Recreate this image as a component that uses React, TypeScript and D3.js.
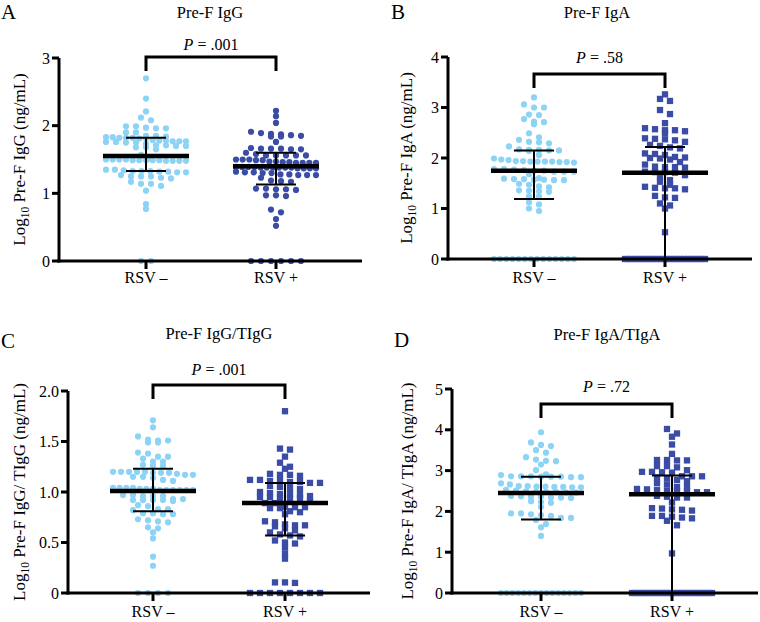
import React from "react";
import * as d3 from "d3";

// ---------- DATA ----------
const categories = ["RSV –", "RSV +"];
const panelLetters = ["A", "B", "C", "D"];
const panelTitles = ["Pre-F IgG", "Pre-F IgA", "Pre-F IgG/TIgG", "Pre-F IgA/TIgA"];
const yLabelRest = [" Pre-F IgG (ng/mL)", " Pre-F IgA (ng/mL)", " Pre-F IgG/ TIgG (ng/mL)", " Pre-F IgA/ TIgA (ng/mL)"];
const pValues = [".001", ".58", ".001", ".72"];
const yMaxes = [3, 4, 2, 5];
const tickValues = [[0, 1, 2, 3], [0, 1, 2, 3, 4], [0, 0.5, 1, 1.5, 2], [0, 1, 2, 3, 4, 5]];
const tickLabels = [["0", "1", "2", "3"], ["0", "1", "2", "3", "4"], ["0", "0.5", "1.0", "1.5", "2.0"], ["0", "1", "2", "3", "4", "5"]];

const aNeg = [2.70, 2.40, 2.21, 2.12, 2.08, 1.99, 1.96, 1.96, 1.97, 1.99, 1.90, 1.90, 1.85, 1.84, 1.83, 1.82, 1.81, 1.81, 1.82, 1.82, 1.83, 1.85,
  1.78, 1.77, 1.76, 1.75, 1.78, 1.76, 1.75, 1.77, 1.77, 1.79, 1.70, 1.68, 1.70, 1.71, 1.71, 1.73, 1.65, 1.68, 1.57,
  1.51, 1.50, 1.49, 1.49, 1.48, 1.50, 1.49, 1.48, 1.48, 1.49, 1.50, 1.49, 1.48, 1.50,
  1.33, 1.32, 1.35, 1.34, 1.33, 1.33, 1.35, 1.31, 1.31, 1.32, 1.27, 1.25, 1.23, 1.22, 1.25, 1.25,
  1.17, 1.14, 1.11, 1.14, 1.04, 0.84, 0.77, 0, 0];
const aPos = [2.22, 2.14, 2.04, 1.91, 1.89, 1.88, 1.87, 1.86, 1.85, 1.84, 1.84, 1.76, 1.66, 1.65, 1.65, 1.66, 1.66, 1.67,
  1.60, 1.58, 1.56, 1.56, 1.56, 1.56, 1.56, 1.50, 1.50, 1.49, 1.47, 1.46, 1.45, 1.45, 1.45, 1.45, 1.46, 1.47, 1.49, 1.50,
  1.39, 1.39, 1.38, 1.38, 1.38, 1.37, 1.37, 1.37, 1.37, 1.38, 1.38, 1.38, 1.39, 1.39,
  1.31, 1.30, 1.28, 1.27, 1.27, 1.27, 1.28, 1.30, 1.31, 1.32, 1.23, 1.18, 1.19, 1.17,
  1.07, 1.06, 1.05, 1.06, 1.07, 0.97, 0.96, 0.97, 0.76, 0.72, 0.62, 0.52, 0, 0, 0, 0, 0, 0];
const bNeg = [3.20, 3.06, 3.00, 3.00, 2.86, 2.85, 2.77, 2.72, 2.71, 2.67, 2.49, 2.41, 2.36, 2.32, 2.31, 2.29, 2.23,
  2.17, 2.16, 2.15, 2.15, 2.16, 2.14, 2.06, 1.99, 1.96, 1.94, 1.93, 1.92, 1.91, 1.93, 1.92, 1.93, 1.93, 1.94, 1.97,
  1.78, 1.77, 1.76, 1.75, 1.73, 1.73, 1.73, 1.75, 1.78, 1.68, 1.60, 1.59, 1.58, 1.57, 1.57, 1.56, 1.56, 1.58,
  1.49, 1.47, 1.44, 1.42, 1.36, 1.34, 1.33, 1.35, 1.24, 1.24, 1.12, 1.08, 1.00, 0.95,
  0, 0, 0, 0, 0, 0, 0, 0, 0, 0, 0, 0, 0, 0];
const bPos = [3.26, 3.17, 3.13, 2.95, 2.87, 2.69, 2.59, 2.57, 2.55, 2.53, 2.55, 2.49, 2.39, 2.37, 2.38, 2.32, 2.35,
  2.26, 2.24, 2.21, 2.19, 2.09, 2.08, 2.06, 2.02, 2.01, 2.00, 1.97, 1.99, 1.92, 1.87, 1.83, 1.82, 1.82, 1.81,
  1.73, 1.72, 1.72, 1.71, 1.66, 1.62, 1.56, 1.53, 1.47, 1.41, 1.38, 1.40, 1.40, 1.43, 1.25, 1.22, 1.21,
  1.10, 1.06, 1.00, 0.53,
  0, 0, 0, 0, 0, 0, 0, 0, 0, 0, 0, 0, 0, 0, 0, 0, 0, 0, 0, 0, 0, 0, 0, 0];
const cNeg = [1.71, 1.64, 1.52, 1.51, 1.49, 1.49, 1.51, 1.55, 1.39, 1.38, 1.35, 1.33, 1.30, 1.30, 1.35, 1.26, 1.26, 1.27,
  1.20, 1.20, 1.20, 1.20, 1.19, 1.19, 1.20, 1.17, 1.18, 1.19, 1.15, 1.14, 1.11, 1.12, 1.15, 1.17,
  1.04, 1.04, 1.03, 1.02, 1.02, 1.02, 1.02, 1.02, 1.02, 1.03, 1.03, 1.04, 1.04, 0.97, 0.96, 0.96, 0.96, 0.97,
  0.93, 0.92, 0.92, 0.91, 0.92, 0.92, 0.93, 0.86, 0.83, 0.87, 0.82, 0.83, 0.79, 0.78, 0.78, 0.79,
  0.72, 0.70, 0.71, 0.73, 0.64, 0.60, 0.65, 0.54, 0.36, 0.27, 0, 0, 0, 0];
const cPos = [1.80, 1.42, 1.43, 1.35, 1.29, 1.25, 1.23, 1.18, 1.17, 1.17, 1.16, 1.12, 1.11, 1.10, 1.09, 1.09, 1.10, 1.11, 1.12,
  1.06, 1.04, 1.05, 1.03, 1.00, 0.99, 0.98, 0.96, 0.97, 0.98, 0.95, 0.94, 0.94, 0.94, 0.95, 0.91, 0.89, 0.89,
  0.85, 0.84, 0.84, 0.85, 0.85, 0.81, 0.80, 0.78, 0.70, 0.71, 0.67, 0.68, 0.66, 0.64, 0.62, 0.60, 0.67,
  0.58, 0.56, 0.57, 0.52, 0.50, 0.49, 0.45, 0.39, 0.34, 0.105, 0.10, 0.105, 0, 0, 0, 0, 0, 0, 0, 0];
const dNeg = [3.94, 3.69, 3.63, 3.60, 3.50, 3.44, 3.33, 3.24, 3.15, 3.23, 3.27, 3.01, 2.91, 2.89,
  2.86, 2.86, 2.85, 2.84, 2.84, 2.85, 2.85, 2.86, 2.69, 2.66, 2.62, 2.62, 2.61, 2.60, 2.59, 2.59, 2.60, 2.61,
  2.53, 2.51, 2.49, 2.47, 2.46, 2.46, 2.47, 2.48, 2.38, 2.36, 2.34, 2.33, 2.34, 2.36, 2.37, 2.25, 2.21, 2.23, 2.11,
  1.95, 1.93, 1.95, 1.91, 1.89, 1.84, 1.84, 1.79, 1.69, 1.61, 1.40,
  0, 0, 0, 0, 0, 0, 0, 0, 0, 0, 0, 0, 0, 0, 0];
const dPos = [4.02, 3.91, 3.83, 3.64, 3.41, 3.26, 3.25, 3.25, 3.26, 3.11, 3.11, 3.08, 3.01, 2.97, 2.95, 2.97, 2.96,
  2.86, 2.86, 2.86, 2.83, 2.81, 2.77, 2.74, 2.66, 2.69, 2.60, 2.60, 2.54, 2.52, 2.49, 2.47, 2.51, 2.55, 2.50, 2.47,
  2.38, 2.36, 2.34, 2.34, 2.22, 2.08, 2.04, 2.07, 2.02, 2.05, 1.89, 1.83, 1.89, 1.87, 1.85, 1.77, 1.66, 0.97,
  0, 0, 0, 0, 0, 0, 0, 0, 0, 0, 0, 0, 0, 0, 0, 0, 0, 0, 0, 0, 0, 0, 0, 0];

// centre line (median) and interquartile range per panel: [RSV-, RSV+]
const medians = [[1.55, 1.40], [1.75, 1.71], [1.01, 0.89], [2.45, 2.42]];
const q1s = [[1.33, 1.13], [1.19, 0], [0.81, 0.57], [1.80, 0]];
const q3s = [[1.82, 1.60], [2.15, 2.22], [1.23, 1.09], [2.85, 2.88]];
const groupData = [[aNeg, aPos], [bNeg, bPos], [cNeg, cPos], [dNeg, dPos]];
const posShapes = ["circle", "square", "square", "square"];

// ---------- LAYOUT ----------
const geo = [
  { axisX: 59, yB: 261, yT: 58, xEnd: 362, cx: [146, 276], brT: 57, pY: 50, titleX: 210, titleY: 18, letX: 1, letY: 19, ylabX: 25, catY: 283 },
  { axisX: 448, yB: 259, yT: 57, xEnd: 752, cx: [534, 665], brT: 74, pY: 63, titleX: 597, titleY: 18, letX: 391, letY: 19, ylabX: 412, catY: 283 },
  { axisX: 68, yB: 593, yT: 391, xEnd: 370, cx: [153, 285], brT: 385, pY: 375, titleX: 219, titleY: 339, letX: 1, letY: 348, ylabX: 25, catY: 617 },
  { axisX: 452, yB: 593, yT: 389, xEnd: 758, cx: [541, 672], brT: 404, pY: 392, titleX: 607, titleY: 340, letX: 394, letY: 347, ylabX: 413, catY: 617 },
];

const LIGHT = "#8dd3f5";
const DARK = "#3a4ca6";
const FONT = "'Liberation Serif', 'Times New Roman', serif";

function swarm(values: number[], y: (v: number) => number, cx: number) {
  const pitch = 10, maxHalf = 40, rowPx = 4.5;
  const pts = values.map((v) => ({ v, py: y(v) })).sort((a, b) => a.py - b.py);
  const rows: { v: number; py: number }[][] = [];
  let cur: { v: number; py: number }[] = [];
  let start = 0;
  for (const p of pts) {
    if (cur.length && p.py - start > rowPx) {
      rows.push(cur);
      cur = [];
    }
    if (!cur.length) start = p.py;
    cur.push(p);
  }
  if (cur.length) rows.push(cur);
  const out: { x: number; y: number }[] = [];
  for (const row of rows) {
    const n = row.length;
    const s = n > 1 ? Math.min(pitch, (2 * maxHalf) / (n - 1)) : 0;
    row.forEach((p, i) => out.push({ x: cx + (i - (n - 1) / 2) * s, y: p.py }));
  }
  return out;
}

function Panel({ i }: { i: number }) {
  const g = geo[i];
  const y = d3.scaleLinear().domain([0, yMaxes[i]]).range([g.yB, g.yT]);
  const r = 3.1;
  const sq = 6.3;
  return (
    <g fontFamily={FONT}>
      <text x={g.letX} y={g.letY} fontSize={21}>{panelLetters[i]}</text>
      <text x={g.titleX} y={g.titleY} fontSize={16.5} textAnchor="middle">{panelTitles[i]}</text>
      <text transform={`translate(${g.ylabX},${(g.yB + g.yT) / 2}) rotate(-90)`} fontSize={17} textAnchor="middle">
        Log<tspan fontSize={11.5} dy={4}>10</tspan><tspan dy={-4}>{yLabelRest[i]}</tspan>
      </text>
      {/* points */}
      {groupData[i].map((vals, gi) => {
        const pts = swarm(vals, y, g.cx[gi]);
        const col = gi === 0 ? LIGHT : DARK;
        const shape = gi === 0 ? "circle" : posShapes[i];
        return (
          <g key={gi}>
            {pts.map((p, k) =>
              shape === "circle" ? (
                <circle key={k} cx={p.x} cy={p.y} r={r} fill={col} />
              ) : (
                <rect key={k} x={p.x - sq / 2} y={p.y - sq / 2} width={sq} height={sq} fill={col} />
              )
            )}
          </g>
        );
      })}
      {/* axes */}
      <line x1={g.axisX} x2={g.axisX} y1={g.yT} y2={g.yB + 1.5} stroke="#000" strokeWidth={3} />
      <line x1={g.axisX - 1.5} x2={g.xEnd} y1={g.yB} y2={g.yB} stroke="#000" strokeWidth={3} />
      {tickValues[i].map((t, k) => (
        <g key={k}>
          <line x1={g.axisX - 7} x2={g.axisX} y1={y(t)} y2={y(t)} stroke="#000" strokeWidth={3} />
          <text x={g.axisX - 9} y={y(t) + 5.5} fontSize={16} textAnchor="end">{tickLabels[i][k]}</text>
        </g>
      ))}
      {categories.map((c, k) => (
        <g key={k}>
          <line x1={g.cx[k]} x2={g.cx[k]} y1={g.yB} y2={g.yB + 8} stroke="#000" strokeWidth={3} />
          <text x={g.cx[k]} y={g.catY} fontSize={16} textAnchor="middle">{c}</text>
        </g>
      ))}
      {/* median + IQR */}
      {[0, 1].map((k) => (
        <g key={k} stroke="#000">
          <line x1={g.cx[k]} x2={g.cx[k]} y1={y(q1s[i][k])} y2={y(q3s[i][k])} strokeWidth={2} />
          <line x1={g.cx[k] - 20} x2={g.cx[k] + 20} y1={y(q1s[i][k])} y2={y(q1s[i][k])} strokeWidth={2} />
          <line x1={g.cx[k] - 20} x2={g.cx[k] + 20} y1={y(q3s[i][k])} y2={y(q3s[i][k])} strokeWidth={2} />
          <line x1={g.cx[k] - 43} x2={g.cx[k] + 43} y1={y(medians[i][k])} y2={y(medians[i][k])} strokeWidth={4.5} />
        </g>
      ))}
      {/* bracket */}
      <path d={`M${g.cx[0]},${g.brT + 14}V${g.brT}H${g.cx[1]}V${g.brT + 14}`} fill="none" stroke="#000" strokeWidth={3} />
      <text x={(g.cx[0] + g.cx[1]) / 2} y={g.pY} fontSize={16} textAnchor="middle">
        <tspan fontStyle="italic">P</tspan> = {pValues[i]}
      </text>
    </g>
  );
}

export default function App() {
  return (
    <svg width={760} height={622} style={{ position: "absolute", left: 0, top: 0, background: "#fff" }}>
      <rect width={760} height={622} fill="#fff" />
      {[0, 1, 2, 3].map((i) => (
        <Panel key={i} i={i} />
      ))}
    </svg>
  );
}
